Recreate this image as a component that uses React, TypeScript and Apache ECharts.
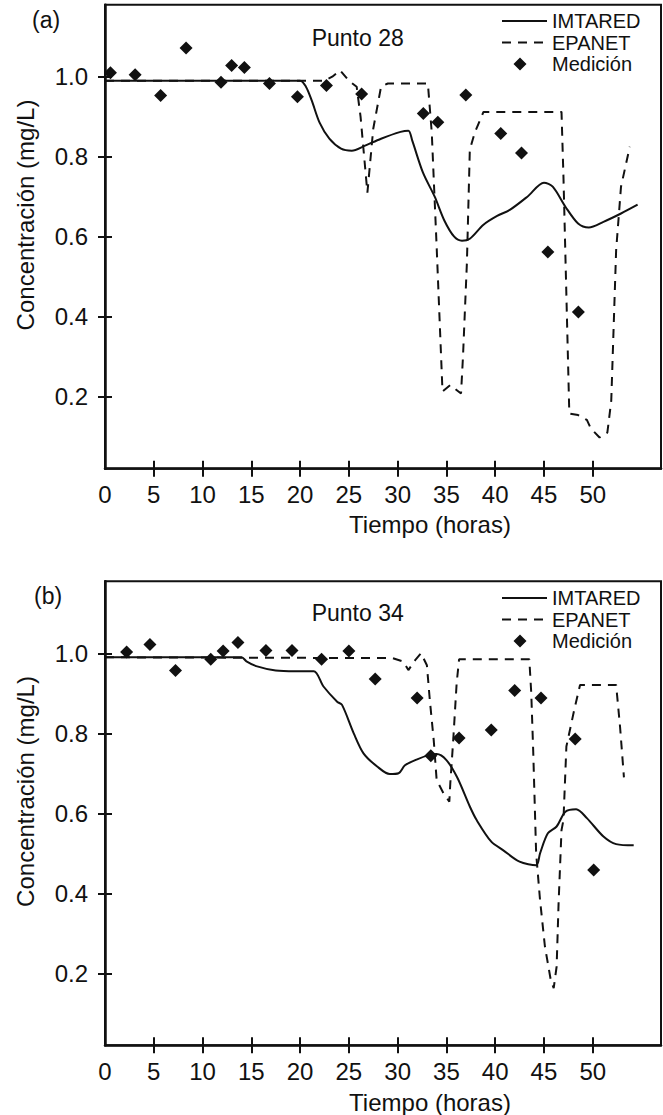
import React, { useEffect, useRef } from "react";
import * as echarts from "echarts";

// ---- data ----
const xLabelValues = [0, 5, 10, 15, 20, 25, 30, 35, 40, 45, 50];
const xTickValues = [5, 10, 15, 20, 25, 30, 35, 40, 45, 50];
const yTickValues = [0.2, 0.4, 0.6, 0.8, 1.0];
const legendNames = ["IMTARED", "EPANET", "Medición"];

// Panel (a) Punto 28
const imtaredA = [
  [0, 0.99], [20, 0.99], [20.6, 0.975], [21.2, 0.94], [22, 0.885], [23, 0.845],
  [24.2, 0.82], [25.3, 0.815], [26.6, 0.827], [28.3, 0.845], [30.3, 0.862],
  [31.1, 0.865], [31.5, 0.84], [32.6, 0.76], [33.8, 0.7], [34.8, 0.64],
  [35.8, 0.6], [36.6, 0.59], [37.4, 0.595], [38.8, 0.63], [40.2, 0.652],
  [41.5, 0.667], [43.3, 0.7], [45.0, 0.735], [45.9, 0.725], [47.2, 0.675],
  [48.5, 0.633], [49.6, 0.623], [51.1, 0.637], [52.9, 0.658], [54.6, 0.68],
];
const epanetA = [
  [0, 0.99], [22.5, 0.99], [23.3, 1.0], [24.1, 1.016], [25.0, 0.99], [25.8, 0.975],
  [26.2, 0.9], [26.9, 0.71], [27.5, 0.87], [28.3, 0.975], [29, 0.983], [33.1, 0.983],
  [33.5, 0.86], [34.0, 0.575], [34.6, 0.213], [35.4, 0.229], [36.5, 0.208],
  [36.7, 0.3], [37.1, 0.534], [37.4, 0.817], [37.9, 0.86], [38.8, 0.912],
  [46.8, 0.912], [47.0, 0.75], [47.6, 0.158], [48.5, 0.154], [49.4, 0.142],
  [49.8, 0.121], [50.7, 0.098], [51.5, 0.11], [51.9, 0.19], [52.4, 0.566],
  [52.9, 0.725], [53.8, 0.825],
];
const medicionA = [
  [0.56, 1.01], [3.09, 1.005], [5.7, 0.953], [8.31, 1.072], [11.89, 0.986],
  [12.98, 1.028], [14.29, 1.023], [16.86, 0.983], [19.73, 0.95], [22.7, 0.978],
  [26.31, 0.957], [32.63, 0.908], [34.12, 0.886], [36.99, 0.954], [40.57, 0.858],
  [42.7, 0.809], [45.4, 0.562], [48.53, 0.412],
];

// Panel (b) Punto 34
const imtaredB = [
  [0, 0.99], [14, 0.99], [14.5, 0.98], [15.5, 0.968], [17.5, 0.957], [19.5, 0.955],
  [21.4, 0.955], [22.4, 0.917], [23.8, 0.879], [24.3, 0.871], [25.5, 0.8],
  [26.5, 0.75], [27.9, 0.717], [29.2, 0.698], [30.1, 0.7], [30.75, 0.72],
  [32.0, 0.735], [33.3, 0.746], [34.0, 0.748], [35.0, 0.733], [36.1, 0.69],
  [37.4, 0.617], [38.1, 0.583], [39.6, 0.529], [40.8, 0.508], [42.5, 0.479],
  [44.2, 0.47], [44.6, 0.5], [45.4, 0.55], [46.3, 0.567], [47.2, 0.604],
  [48.3, 0.61], [49.4, 0.588], [51.1, 0.542], [52.4, 0.523], [54.2, 0.52],
];
const epanetB = [
  [0, 0.99], [29.5, 0.988], [30.6, 0.979], [31.1, 0.958], [31.8, 0.983], [32.4, 1.0],
  [33.0, 0.97], [33.3, 0.883], [33.7, 0.783], [34.0, 0.683], [34.7, 0.65],
  [35.3, 0.629], [35.4, 0.675], [35.7, 0.783], [36.05, 0.925], [36.3, 0.985],
  [43.5, 0.985], [43.7, 0.9], [43.9, 0.755], [44.2, 0.5], [44.6, 0.383],
  [45.1, 0.267], [45.7, 0.183], [46.0, 0.163], [46.3, 0.217], [46.5, 0.375],
  [46.8, 0.558], [47.0, 0.583], [47.3, 0.767], [48.1, 0.858], [48.7, 0.921],
  [52.4, 0.921], [52.8, 0.817], [53.2, 0.69],
];
const medicionB = [
  [2.22, 1.003], [4.61, 1.022], [7.23, 0.957], [10.84, 0.985], [12.11, 1.006],
  [13.63, 1.027], [16.5, 1.007], [19.17, 1.007], [22.2, 0.985], [25.0, 1.006],
  [27.7, 0.936], [32.0, 0.888], [33.4, 0.744], [36.3, 0.788], [39.6, 0.808],
  [42.0, 0.907], [44.7, 0.888], [48.2, 0.786], [50.1, 0.458],
];

const INK = "#111";
const FONT = "'Liberation Sans', Arial, Helvetica, sans-serif";
// diamond inside a 45x14 box (zero-length sub-paths fix the bounding box)
const DIAMOND_ICON = "path://M0,7L0.01,7ZM45,7L44.99,7ZM11.5,7L18,0.5L24.5,7L18,13.5Z";

function buildOption() {
  const gridA = { left: 105, top: 4.7, width: 556, height: 464 };
  const gridB = { left: 105, top: 581.3, width: 556, height: 464 };
  const grids = [
    { ...gridA, show: true, borderColor: INK, borderWidth: 2 },
    { ...gridA, show: false },
    { ...gridB, show: true, borderColor: INK, borderWidth: 2 },
    { ...gridB, show: false },
  ];
  const mkX = (gi: number, outer: boolean) => ({
    type: "value",
    gridIndex: gi,
    min: 0,
    max: 57,
    axisLine: { show: outer, onZero: false, lineStyle: { color: INK, width: 2.5 } },
    axisTick: {
      show: true,
      inside: !outer,
      length: 8,
      customValues: xTickValues,
      lineStyle: { color: INK, width: 2 },
    },
    axisLabel: {
      show: outer,
      customValues: xLabelValues,
      margin: 14,
      fontSize: 24,
      color: INK,
      fontFamily: FONT,
    },
    splitLine: { show: false },
  });
  const mkY = (gi: number, outer: boolean) => ({
    type: "value",
    gridIndex: gi,
    min: 0.02,
    max: 1.18,
    axisLine: { show: outer, onZero: false, lineStyle: { color: INK, width: 2.5 } },
    axisTick: {
      show: true,
      inside: !outer,
      length: 7,
      customValues: yTickValues,
      lineStyle: { color: INK, width: 2 },
    },
    axisLabel: {
      show: outer,
      customValues: yTickValues,
      formatter: (v: number) => v.toFixed(1),
      margin: 17,
      fontSize: 24,
      color: INK,
      fontFamily: FONT,
    },
    splitLine: { show: false },
  });

  const mkSeries = (ax: number, imt: number[][], epa: number[][], med: number[][]) => [
    {
      name: "IMTARED",
      type: "line",
      xAxisIndex: ax,
      yAxisIndex: ax,
      data: imt,
      symbol: "none",
      smooth: 0.3,
      lineStyle: { color: INK, width: 2 },
      itemStyle: { color: INK },
      z: 3,
    },
    {
      name: "EPANET",
      type: "line",
      xAxisIndex: ax,
      yAxisIndex: ax,
      data: epa,
      symbol: "none",
      lineStyle: { color: INK, width: 2, type: [9, 7] },
      itemStyle: { color: INK },
      z: 4,
    },
    {
      name: "Medición",
      type: "scatter",
      xAxisIndex: ax,
      yAxisIndex: ax,
      data: med,
      symbol: "diamond",
      symbolSize: 13,
      itemStyle: { color: INK, opacity: 1 },
      z: 5,
    },
  ];

  const mkLegend = (top: number) => ({
    orient: "vertical",
    left: 496,
    top,
    itemWidth: 45,
    itemHeight: 14,
    itemGap: 1.5,
    selectedMode: false,
    data: [
      { name: legendNames[0], itemStyle: { opacity: 0 } },
      { name: legendNames[1], itemStyle: { opacity: 0 } },
      { name: legendNames[2], icon: DIAMOND_ICON },
    ],
    textStyle: { fontSize: 20, lineHeight: 20, color: INK, fontFamily: FONT },
  });

  const txt = (text: string, x: number, y: number, size: number, align = "left", rotation = 0) => ({
    type: "text",
    x,
    y,
    rotation,
    style: {
      text,
      fill: INK,
      font: `${size}px ${FONT}`,
      align,
      verticalAlign: "middle",
    },
  });

  return {
    animation: false,
    backgroundColor: "#fff",
    textStyle: { fontFamily: FONT },
    grid: grids,
    xAxis: [mkX(0, true), mkX(1, false), mkX(2, true), mkX(3, false)],
    yAxis: [mkY(0, true), mkY(1, false), mkY(2, true), mkY(3, false)],
    legend: [mkLegend(6), mkLegend(583)],
    series: [...mkSeries(0, imtaredA, epanetA, medicionA), ...mkSeries(2, imtaredB, epanetB, medicionB)],
    graphic: [
      txt("(a)", 32, 20, 23),
      txt("(b)", 34, 596, 23),
      txt("Punto 28", 311.7, 38, 23),
      txt("Punto 34", 311.7, 612.5, 23),
      txt("Tiempo (horas)", 430, 524, 24, "center"),
      txt("Tiempo (horas)", 430, 1102.5, 24, "center"),
      txt("Concentración (mg/L)", 25, 215, 24, "center", Math.PI / 2),
      txt("Concentración (mg/L)", 25, 791.5, 24, "center", Math.PI / 2),
    ],
  };
}

export default function App() {
  const ref = useRef<HTMLDivElement>(null);
  useEffect(() => {
    if (!ref.current) return;
    const chart = echarts.init(ref.current, undefined, { renderer: "svg" });
    chart.setOption(buildOption() as any);
    return () => chart.dispose();
  }, []);
  return (
    <div
      ref={ref}
      style={{ position: "absolute", left: 0, top: 0, width: 663, height: 1115, background: "#fff" }}
    />
  );
}
